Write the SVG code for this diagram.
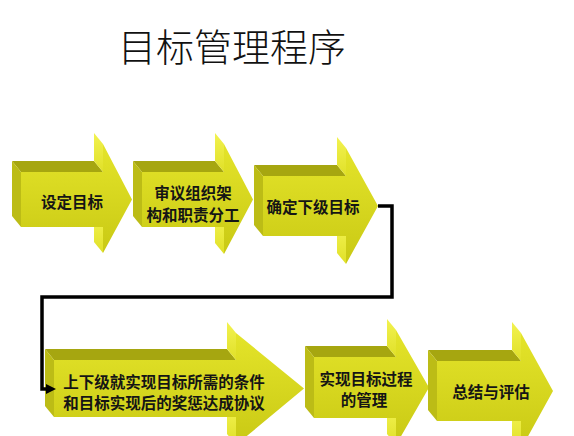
<svg xmlns="http://www.w3.org/2000/svg" width="574" height="436" viewBox="0 0 574 436">
  <defs>
    <linearGradient id="gFront" x1="0" y1="0" x2="0" y2="1">
      <stop offset="0" stop-color="#e4e42a"/>
      <stop offset="1" stop-color="#c9c914"/>
    </linearGradient>
    <linearGradient id="gHead" x1="0" y1="0" x2="0" y2="1">
      <stop offset="0" stop-color="#f2f250"/>
      <stop offset="1" stop-color="#e0e028"/>
    </linearGradient>
    <marker id="ah" viewBox="0 0 10 10" refX="0" refY="5" markerWidth="11" markerHeight="10" markerUnits="userSpaceOnUse" orient="auto">
      <path d="M0,0 L10,5 L0,10 z" fill="#000"/>
    </marker>
    <style>
      .front { fill: url(#gFront); }
      .top { fill: #a6a610; }
      .side { fill: #bcbc16; }
      .hside { fill: url(#gHead); }
      .lbl { font-family: "Noto Sans CJK SC", "Noto Sans", sans-serif; font-size: 15.5px; font-weight: bold; fill: #151515; text-anchor: middle; }
      .title { font-family: "Noto Sans CJK SC", "Noto Sans", sans-serif; font-size: 38px; font-weight: 300; fill: #111; text-anchor: middle; }
      .conn { fill: none; stroke: #000; stroke-width: 3.5; stroke-linejoin: miter; }
    </style>
  </defs>
  <rect width="574" height="436" fill="#ffffff"/>
  <text class="title" x="232" y="61">目标管理程序</text>

  <g id="step1">
    <polygon class="top" points="12,161 94,161 103,172 21,172"/>
    <polygon class="side" points="12,161 21,172 21,227 12,216"/>
    <polygon class="hside" points="94,133 103,144 103,172 94,161"/>
    <polygon class="hside" points="94,216 103,227 103,253 94,242"/>
    <polygon class="front" points="21,172 103,172 103,144 132,199.5 103,253 103,227 21,227"/>
    <text class="lbl" x="72" y="208">设定目标</text>
  </g>

  <g id="step2">
    <polygon class="top" points="133,161 215,161 224,172 142,172"/>
    <polygon class="side" points="133,161 142,172 142,227 133,216"/>
    <polygon class="hside" points="215,133 224,144 224,172 215,161"/>
    <polygon class="hside" points="215,216 224,227 224,254 215,243"/>
    <polygon class="front" points="142,172 224,172 224,144 253,199.5 224,254 224,227 142,227"/>
    <text class="lbl" x="193" y="199">审议组织架</text>
    <text class="lbl" x="193" y="221">构和职责分工</text>
  </g>

  <g id="step3">
    <polygon class="top" points="254,165 337,165 346,176 263,176"/>
    <polygon class="side" points="254,165 263,176 263,236 254,225"/>
    <polygon class="hside" points="337,137 346,148 346,176 337,165"/>
    <polygon class="hside" points="337,225 346,236 346,264 337,253"/>
    <polygon class="front" points="263,176 346,176 346,148 378,206 346,264 346,236 263,236"/>
    <text class="lbl" x="313" y="213">确定下级目标</text>
  </g>

  <g id="step4">
    <polygon class="top" points="45,349 227,349 236,360 54,360"/>
    <polygon class="side" points="45,349 54,360 54,417 45,406"/>
    <polygon class="hside" points="227,322 236,333 236,360 227,349"/>
    <polygon class="hside" points="227,406 236,417 236,445 227,434"/>
    <polygon class="front" points="54,360 236,360 236,333 304,388.5 236,445 236,417 54,417"/>
    <text class="lbl" x="164" y="388">上下级就实现目标所需的条件</text>
    <text class="lbl" x="164" y="409">和目标实现后的奖惩达成协议</text>
  </g>

  <g id="step5">
    <polygon class="top" points="305,346 387,346 396,357 314,357"/>
    <polygon class="side" points="305,346 314,357 314,418 305,407"/>
    <polygon class="hside" points="387,319 396,330 396,357 387,346"/>
    <polygon class="hside" points="387,407 396,418 396,445 387,434"/>
    <polygon class="front" points="314,357 396,357 396,330 429,387.5 396,445 396,418 314,418"/>
    <text class="lbl" x="366" y="385">实现目标过程</text>
    <text class="lbl" x="364" y="406">的管理</text>
  </g>

  <g id="step6">
    <polygon class="top" points="428,350 512,350 521,361 437,361"/>
    <polygon class="side" points="428,350 437,361 437,421 428,410"/>
    <polygon class="hside" points="512,322 521,333 521,361 512,350"/>
    <polygon class="hside" points="512,410 521,421 521,449 512,438"/>
    <polygon class="front" points="437,361 521,361 521,333 553,391 521,449 521,421 437,421"/>
    <text class="lbl" x="491" y="398">总结与评估</text>
  </g>

  <g id="connectors">
    <path class="conn" d="M378,206 H392 V297 H42 V389 H46" marker-end="url(#ah)"/>
  </g>
</svg>
